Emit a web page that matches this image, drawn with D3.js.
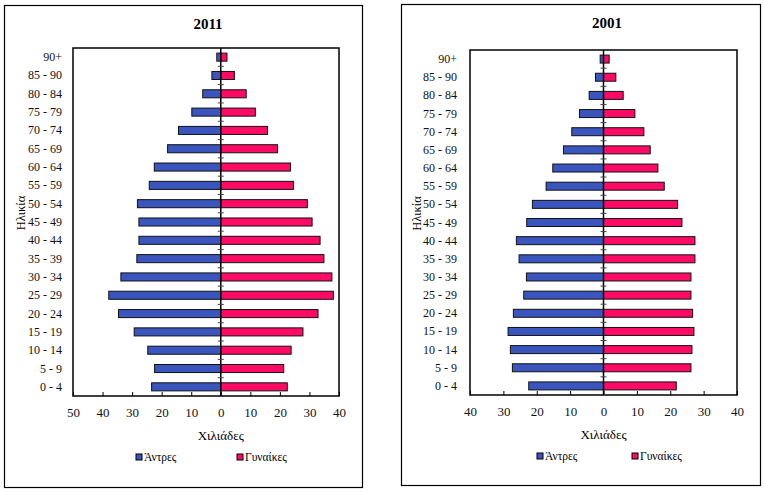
<!DOCTYPE html>
<html><head><meta charset="utf-8">
<script src="https://cdn.jsdelivr.net/npm/d3@7"></script>
<style>body{margin:0;background:#fff}svg{display:block}svg text{font-family:'Liberation Serif','Times New Roman','DejaVu Serif',serif !important}</style>
</head><body>
<svg id="c" width="764" height="492" font-family="Liberation Serif, serif"></svg>
<script>
const ageGroups = ["0 - 4","5 -  9","10 - 14","15 - 19","20 - 24","25 - 29","30 - 34","35 - 39","40 - 44","45 - 49","50 - 54","55 - 59","60 - 64","65 - 69","70 - 74","75 - 79","80 - 84","85 - 90","90+"];
const men2011 = [23.4,22.4,24.7,29.3,34.6,37.9,33.8,28.4,27.7,27.7,28.2,24.2,22.5,18.0,14.3,9.8,6.1,3.0,1.35];
const women2011 = [22.5,21.3,23.8,27.8,32.9,38.1,37.6,34.9,33.6,30.9,29.3,24.6,23.6,19.2,15.8,11.7,8.6,4.6,2.1];
const men2001 = [22.4,27.3,27.9,28.6,27.0,23.9,23.1,25.3,26.1,23.0,21.3,17.2,15.2,12.0,9.5,7.2,4.3,2.4,1.0];
const women2001 = [21.8,26.2,26.5,27.1,26.7,26.2,26.2,27.4,27.4,23.5,22.2,18.2,16.3,14.0,12.1,9.4,5.9,3.7,1.7];
const ticks2011 = [-50,-40,-30,-20,-10,0,10,20,30,40];
const ticks2001 = [-40,-30,-20,-10,0,10,20,30,40];
const seriesNames = ["Άντρες","Γυναίκες"];
const colors = ["#3A56BE","#FF0A64"];

const svg = d3.select("#c");

function drawChart(cfg){
  const g = svg.append("g");
  g.append("rect").attr("x",cfg.frame[0]+0.5).attr("y",cfg.frame[1]+0.5)
    .attr("width",cfg.frame[2]-cfg.frame[0]).attr("height",cfg.frame[3]-cfg.frame[1])
    .attr("fill","#fff").attr("stroke","#000").attr("stroke-width",1.2);
  const x = d3.scaleLinear().domain([cfg.ticks[0], cfg.ticks[cfg.ticks.length-1]]).range([cfg.left,cfg.right]);
  const y = d3.scaleBand().domain(ageGroups.slice().reverse()).range([cfg.top,cfg.bottom]).paddingInner(0.56).paddingOuter(0.28);
  const yb = d3.scaleBand().domain(ageGroups.slice().reverse()).range([cfg.top,cfg.bottom]);
  g.append("text").attr("x",cfg.titleX).attr("y",cfg.frame[1]+24).attr("text-anchor","middle")
    .attr("font-size",15).attr("font-weight","bold").text(cfg.title);
  const data = ageGroups.map((a,i)=>({a,m:cfg.men[i],w:cfg.women[i]}));
  g.selectAll(".m").data(data).join("rect")
    .attr("x",d=>x(-d.m)).attr("y",d=>y(d.a)).attr("width",d=>x(0)-x(-d.m)).attr("height",y.bandwidth())
    .attr("fill",colors[0]).attr("stroke","#111").attr("stroke-width",1);
  g.selectAll(".w").data(data).join("rect")
    .attr("x",x(0)).attr("y",d=>y(d.a)).attr("width",d=>x(d.w)-x(0)).attr("height",y.bandwidth())
    .attr("fill",colors[1]).attr("stroke","#111").attr("stroke-width",1);
  g.append("rect").attr("x",cfg.left).attr("y",cfg.top).attr("width",cfg.right-cfg.left).attr("height",cfg.bottom-cfg.top)
    .attr("fill","none").attr("stroke","#000").attr("stroke-width",1.5);
  g.append("line").attr("x1",x(0)).attr("x2",x(0)).attr("y1",cfg.top).attr("y2",cfg.bottom).attr("stroke","#000").attr("stroke-width",1.5);
  const bounds = ageGroups.slice().reverse().slice(1).map(a=>yb(a));
  g.selectAll(".yt").data(bounds).join("line").attr("x1",x(0)-3).attr("x2",x(0)+3).attr("y1",d=>d).attr("y2",d=>d)
    .attr("stroke","#444").attr("stroke-width",1);
  g.selectAll(".cl").data(ageGroups).join("text").attr("x",cfg.labelX).attr("y",d=>yb(d)+yb.bandwidth()/2+4)
    .attr("text-anchor","end").attr("font-size",12).attr("fill","#111").text(d=>d);
  const xa = d3.axisBottom(x).tickValues(cfg.ticks).tickSize(-4).tickPadding(12).tickFormat(d=>Math.abs(d));
  const ax = g.append("g").attr("transform",`translate(0,${cfg.bottom})`).call(xa);
  ax.attr("font-family","Liberation Serif, serif");
  ax.select(".domain").remove();
  ax.selectAll("text").attr("font-size",13).attr("fill","#111");
  ax.selectAll("line").attr("stroke","#000");
  g.append("text").attr("x",x(0)).attr("y",cfg.bottom+44).attr("text-anchor","middle").attr("font-size",13).text("Χιλιάδες");
  g.append("text").attr("transform",`translate(${cfg.yTitleX},${(cfg.top+cfg.bottom)/2-9}) rotate(-90)`).attr("text-anchor","middle")
    .attr("font-size",12.5).text("Ηλικία");
  cfg.legend.forEach((lx,i)=>{
    g.append("rect").attr("x",lx).attr("y",cfg.bottom+58).attr("width",6).attr("height",6)
      .attr("fill",colors[i]).attr("stroke","#000").attr("stroke-width",1);
    g.append("text").attr("x",lx+8).attr("y",cfg.bottom+65).attr("font-size",11.5).text(seriesNames[i]);
  });
}

drawChart({title:"2011",frame:[4,5,362,487],left:73,right:339,top:48,bottom:396,ticks:ticks2011,
  men:men2011,women:women2011,titleX:208,labelX:62,yTitleX:25,legend:[136,237]});
drawChart({title:"2001",frame:[401,4,760,485],left:470,right:737,top:50,bottom:395,ticks:ticks2001,
  men:men2001,women:women2001,titleX:607,labelX:457,yTitleX:421,legend:[537,632]});
</script>
</body></html>
